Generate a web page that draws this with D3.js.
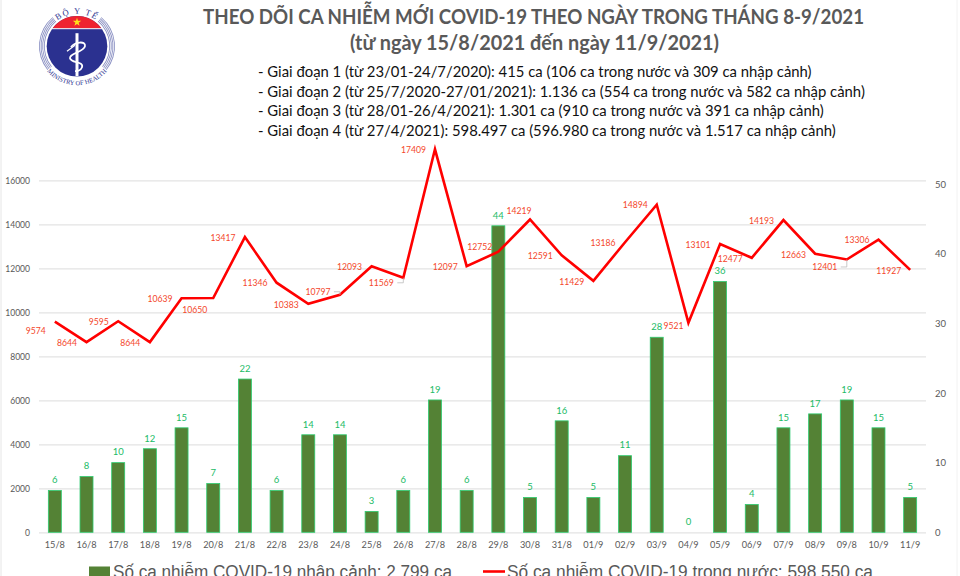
<!DOCTYPE html>
<html>
<head>
<meta charset="utf-8">
<script src="https://cdn.jsdelivr.net/npm/d3@7"></script>
<style>
  html, body { margin: 0; padding: 0; background: #fff; }
  svg { display: block; }
  text { font-family: Lato, "Open Sans", sans-serif; }
</style>
</head>
<body>
<script>
// Data points
var days = ["15/8", "16/8", "17/8", "18/8", "19/8", "20/8", "21/8", "22/8", "23/8", "24/8",
    "25/8", "26/8", "27/8", "28/8", "29/8", "30/8", "31/8", "01/9", "02/9", "03/9",
    "04/9", "05/9", "06/9", "07/9", "08/9", "09/8", "10/9", "11/9"];
var imported = [6, 8, 10, 12, 15, 7, 22, 6, 14, 14, 3, 6, 19, 6, 44, 5, 16, 5, 11, 28, 0, 36, 4, 15, 17, 19, 15, 5];
var domestic = [9574, 8644, 9595, 8644, 10639, 10650, 13417, 11346, 10383, 10797, 12093, 11569, 17409, 12097,
    12752, 14219, 12591, 11429, 13186, 14894, 9521, 13101, 12477, 14193, 12663, 12401, 13306, 11927];
var leftTicks = [0, 2000, 4000, 6000, 8000, 10000, 12000, 14000, 16000];
var rightTicks = [0, 10, 20, 30, 40, 50];

var titleLines = ["THEO DÕI CA NHIỄM MỚI COVID-19 THEO NGÀY TRONG THÁNG 8-9/2021",
    "(từ ngày 15/8/2021 đến ngày 11/9/2021)"];
var periods = ["- Giai đoạn 1 (từ 23/01-24/7/2020): 415 ca (106 ca trong nước và 309 ca nhập cảnh)",
    "- Giai đoạn 2 (từ 25/7/2020-27/01/2021): 1.136 ca (554 ca trong nước và 582 ca nhập cảnh)",
    "- Giai đoạn 3 (từ 28/01-26/4/2021): 1.301 ca (910 ca trong nước và 391 ca nhập cảnh)",
    "- Giai đoạn 4 (từ 27/4/2021): 598.497 ca (596.980 ca trong nước và 1.517 ca nhập cảnh)"];
var legendBars = "Số ca nhiễm COVID-19 nhập cảnh: 2.799 ca";
var legendLine = "Số ca nhiễm COVID-19 trong nước: 598.550 ca";

// Where each red label sits relative to its point, hand placed like the original
var labelDx = [-19, -19.5, -19.5, -19.5, -21.5, -18.5, -22, -21.5, -22, -22, -22, -22, -21.5, -21.5,
    -18.5, -11, -21.5, -21.5, -22, -21.5, -15, -22, -21.5, -22, -21.5, -22, -21.5, -21.5];
var labelDy = [9.5, 0.5, 0.5, 0.5, 0.5, 11.5, 0.5, 0.5, 0.5, -3, 0.5, 5, 0, 0.5,
    -5, -9, 0.5, 0.5, 0.5, 0.5, 3, 0.5, 0.5, 0.5, 0.5, 7.5, 0.5, 0.5];
// labels that have a small grey leader
var leaders = [9, 11, 25];

// Lato digits run wider than the reference's, pull them in a little
function squeeze(sel, k) {
    sel.each(function() {
        d3.select(this)
            .attr("textLength", this.getComputedTextLength() * k)
            .attr("lengthAdjust", "spacingAndGlyphs");
    });
}

var svg = d3.select("body")
    .append("svg")
    .attr("width", 960)
    .attr("height", 576);

svg.append("rect").attr("width", 960).attr("height", 576).attr("fill", "#fff");
svg.append("line").attr("x1", 1).attr("x2", 1).attr("y1", 0).attr("y2", 576).attr("stroke", "#e6e6e6");
svg.append("line").attr("x1", 957).attr("x2", 957).attr("y1", 0).attr("y2", 576).attr("stroke", "#f2f2f2");

// Scales
var xScale = d3.scaleBand()
    .domain(days)
    .range([39, 926]);

var yLeft = d3.scaleLinear()
    .domain([0, 16000])
    .range([532.3, 180.3]);

var yRight = d3.scaleLinear()
    .domain([0, 50])
    .range([532.3, 184]);

var center = function(i) { return xScale(days[i]) + xScale.bandwidth() / 2; };

// Left axis with its gridlines
var leftAxis = svg.append("g")
    .attr("transform", "translate(39,0)")
    .call(d3.axisLeft(yLeft).tickValues(leftTicks).tickSize(-887).tickPadding(9).tickFormat(d3.format("d")));
leftAxis.select(".domain").remove();
leftAxis.selectAll("line").attr("stroke", "#e3e3e3").attr("stroke-width", 1.2);
leftAxis.selectAll("text").attr("fill", "#595959").style("font-size", "9.2px").call(squeeze, 0.93);

// Right axis
var rightAxis = svg.append("g")
    .attr("transform", "translate(926,0)")
    .call(d3.axisRight(yRight).tickValues(rightTicks).tickSize(0).tickPadding(9));
rightAxis.select(".domain").remove();
rightAxis.selectAll("text").attr("fill", "#595959").style("font-size", "9.5px");

// Bottom axis
var bottomAxis = svg.append("g")
    .attr("transform", "translate(0,532.3)")
    .call(d3.axisBottom(xScale).tickSize(0).tickPadding(9));
bottomAxis.select(".domain").remove();
bottomAxis.selectAll("text").attr("fill", "#595959").style("font-size", "9.2px");

// Bars
svg.selectAll(".bar")
    .data(imported)
    .enter()
    .append("rect")
    .attr("class", "bar")
    .attr("x", function(d, i) { return center(i) - 6.5; })
    .attr("y", function(d) { return yRight(d); })
    .attr("width", 13)
    .attr("height", function(d) { return yRight(0) - yRight(d); })
    .attr("fill", "#548235")
    .attr("stroke", "#2ecc71")
    .attr("stroke-width", 0.8)
    .attr("stroke-opacity", function(d) { return d === 0 ? 0 : 1; });

svg.selectAll(".barLabel")
    .data(imported)
    .enter()
    .append("text")
    .attr("class", "barLabel")
    .attr("x", function(d, i) { return center(i); })
    .attr("y", function(d) { return yRight(d) - 10.5; })
    .attr("dy", "0.35em")
    .attr("text-anchor", "middle")
    .attr("fill", "#22bb66")
    .style("font-size", "9.5px")
    .text(function(d) { return d; });

// Line
var line = d3.line()
    .x(function(d, i) { return center(i); })
    .y(function(d) { return yLeft(d); });

svg.append("path")
    .attr("d", line(domestic))
    .attr("fill", "none")
    .attr("stroke", "#ff0000")
    .attr("stroke-width", 2.6);

// Grey leaders
svg.selectAll(".leader")
    .data(leaders)
    .enter()
    .append("path")
    .attr("class", "leader")
    .attr("fill", "none")
    .attr("stroke", "#bbb")
    .attr("stroke-width", 0.8)
    .attr("d", function(i) {
        var px = center(i), py = yLeft(domestic[i]), ly = py + labelDy[i];
        return d3.line()([[px - 6, ly], [px, ly], [px, py]]);
    });

svg.selectAll(".lineLabel")
    .data(domestic)
    .enter()
    .append("text")
    .attr("class", "lineLabel")
    .attr("x", function(d, i) { return center(i) + labelDx[i]; })
    .attr("y", function(d, i) { return yLeft(d) + labelDy[i]; })
    .attr("dy", "0.35em")
    .attr("text-anchor", "middle")
    .attr("fill", "#f4472b")
    .style("font-size", "9.4px")
    .text(function(d) { return d; })
    .call(squeeze, 0.92);

// Title and period notes
svg.selectAll(".title")
    .data(titleLines)
    .enter()
    .append("text")
    .attr("class", "title")
    .attr("x", function(d, i) { return i === 0 ? 533.5 : 534.5; })
    .attr("y", function(d, i) { return i === 0 ? 24 : 50; })
    .attr("text-anchor", "middle")
    .attr("fill", "#595959")
    .attr("textLength", function(d, i) { return i === 0 ? 661 : 369; })
    .attr("lengthAdjust", "spacingAndGlyphs")
    .style("font-size", "20.3px")
    .style("font-weight", 700)
    .text(function(d) { return d; });

svg.selectAll(".period")
    .data(periods)
    .enter()
    .append("text")
    .attr("class", "period")
    .attr("x", 258)
    .attr("y", function(d, i) { return 77 + i * 19.7; })
    .attr("fill", "#111")
    .style("font-size", "14.85px")
    .text(function(d) { return d; });

// Legend, cut by the bottom of the picture
svg.append("rect")
    .attr("x", 89).attr("y", 566.5).attr("width", 21).attr("height", 12)
    .attr("fill", "#548235");
svg.append("text")
    .attr("x", 113).attr("y", 578)
    .attr("fill", "#595959")
    .attr("textLength", 339)
    .attr("lengthAdjust", "spacingAndGlyphs")
    .style("font-family", "'Liberation Sans'")
    .style("font-size", "18px")
    .text(legendBars);
svg.append("line")
    .attr("x1", 483).attr("x2", 505).attr("y1", 571.5).attr("y2", 571.5)
    .attr("stroke", "#ff0000").attr("stroke-width", 2.6);
svg.append("text")
    .attr("x", 507).attr("y", 578)
    .attr("fill", "#595959")
    .attr("textLength", 366)
    .attr("lengthAdjust", "spacingAndGlyphs")
    .style("font-family", "'Liberation Sans'")
    .style("font-size", "18px")
    .text(legendLine);

// Ministry of Health emblem
var logo = svg.append("g").attr("transform", "translate(77,46.2)");
var arc = d3.arc();
[38, 36.4, 34.8, 33.2].forEach(function(r) {
    [[-2.25, -0.7], [0.7, 2.25]].forEach(function(a) {
        logo.append("path")
            .attr("d", arc({innerRadius: r - 0.9, outerRadius: r, startAngle: a[0], endAngle: a[1]}))
            .attr("fill", "#8d93c4");
    });
});
logo.append("circle").attr("r", 30.3).attr("fill", "#2b3190");
logo.append("path")
    .attr("d", "M-24.5,-17.8 A30.3,30.3 0 0 1 24.5,-17.8 Z")
    .attr("fill", "#ee2330");
logo.append("line").attr("x1", -25.5).attr("x2", 25.5).attr("y1", -17.5).attr("y2", -17.5)
    .attr("stroke", "#fff").attr("stroke-width", 1);
logo.append("path")
    .attr("d", d3.symbol(d3.symbolStar, 22)())
    .attr("transform", "translate(0,-24)")
    .attr("fill", "#ffe01a");
logo.append("line").attr("x1", 0).attr("x2", 0).attr("y1", -13).attr("y2", 30)
    .attr("stroke", "#fff").attr("stroke-width", 3);
logo.append("path")
    .attr("d", "M-6,1 C-3,-4 9,-6 8,0 C7,6 -8,7 -7,12 C-6,17 7,15 5,21 C4,24 0,25 -2,25")
    .attr("fill", "none").attr("stroke", "#fff").attr("stroke-width", 1.8);
logo.append("path")
    .attr("d", "M-10,5 L-2,-1")
    .attr("stroke", "#fff").attr("stroke-width", 1.2);

var defs = svg.append("defs");
defs.append("path").attr("id", "logoTop").attr("d", "M-32.5,0 A32.5,32.5 0 0 1 32.5,0");
defs.append("path").attr("id", "logoBottom").attr("d", "M-39,0 A39,39 0 0 0 39,0");
logo.append("text")
    .attr("fill", "#2b3190")
    .style("font-size", "8.5px")
    .style("font-family", "'Liberation Serif'")
    .style("letter-spacing", "1.5px")
    .append("textPath").attr("href", "#logoTop").attr("startOffset", "50%").attr("text-anchor", "middle")
    .text("BỘ Y TẾ");
logo.append("text")
    .attr("fill", "#2b3190")
    .style("font-size", "6.5px")
    .style("font-family", "'Liberation Serif'")
    .append("textPath").attr("href", "#logoBottom").attr("startOffset", "50%").attr("text-anchor", "middle")
    .text("MINISTRY OF HEALTH");
</script>
</body>
</html>
